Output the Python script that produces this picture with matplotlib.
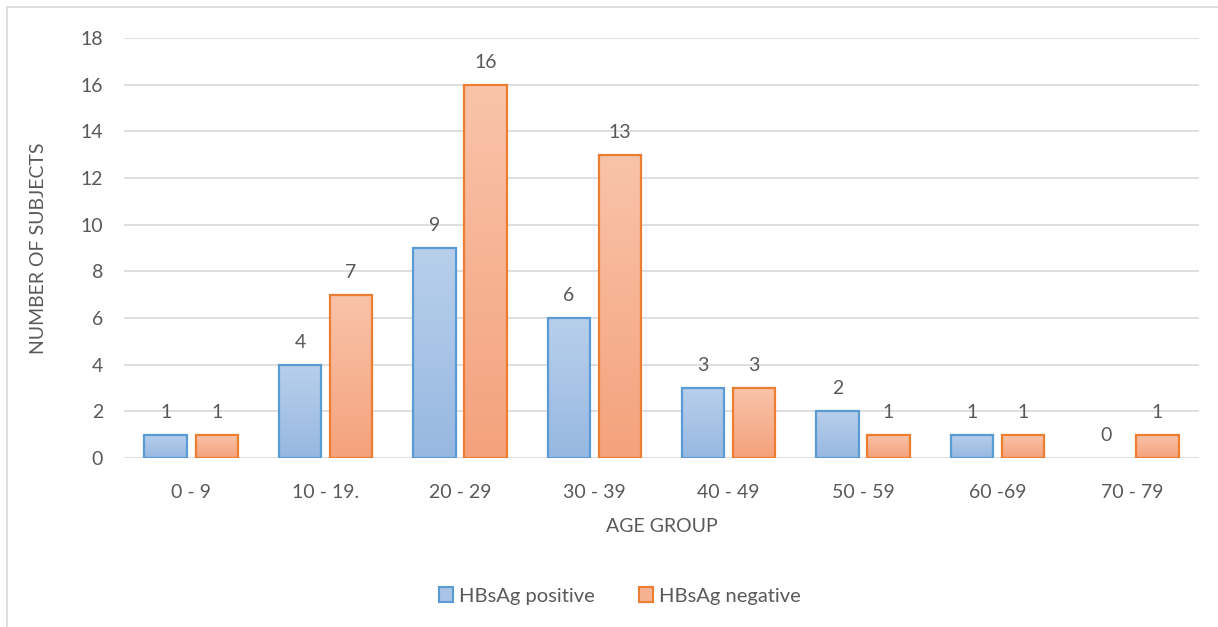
import numpy as np
import matplotlib.pyplot as plt
from matplotlib.colors import LinearSegmentedColormap
from matplotlib.patches import Rectangle, Patch

groups = ['0 - 9', '10 - 19.', '20 - 29', '30 - 39', '40 - 49', '50 - 59', '60 -69', '70 - 79']
positive = [1, 4, 9, 6, 3, 2, 1, 0]
negative = [1, 7, 16, 13, 3, 1, 1, 1]

plt.rcParams['font.family'] = ['Lato', 'DejaVu Sans']
txt = '#595959'

fig = plt.figure(figsize=(12.18, 6.27), dpi=100)
ax = fig.add_axes([124 / 1218, 1 - 458 / 627, 1075 / 1218, 420 / 627])

# outer chart frame
fig.patches.append(Rectangle((7 / 1218, -0.01), 1.2, 1 - 7 / 627 + 0.01, transform=fig.transFigure,
                             fill=False, edgecolor='#d9d9d9', lw=1.2))

x = np.arange(len(groups))
w = 0.315
off = 0.19

blue_cmap = LinearSegmentedColormap.from_list('b', ['#97b8e1', '#b8cfeb'])
orange_cmap = LinearSegmentedColormap.from_list('o', ['#f4a27c', '#f9c3aa'])
grad = np.linspace(0, 1, 100).reshape(-1, 1)


def gradient_bars(xs, vals, cmap, edge):
    bars = ax.bar(xs, vals, w, color='none', edgecolor=edge, linewidth=1.6, zorder=3)
    for b in bars:
        if b.get_height() <= 0:
            b.set_visible(False)
            continue
        x0 = b.get_x()
        im = ax.imshow(grad, cmap=cmap, origin='lower', aspect='auto',
                       extent=[x0, x0 + b.get_width(), 0, b.get_height()], zorder=2)
        im.set_clip_path(b)
    return bars


bp = gradient_bars(x - off, positive, blue_cmap, '#5b9bd5')
bn = gradient_bars(x + off, negative, orange_cmap, '#ed7d31')

for xi, v in zip(x - off, positive):
    ax.text(xi, v + 0.6, str(v), ha='center', va='bottom', color=txt, fontsize=14)
for xi, v in zip(x + off, negative):
    ax.text(xi, v + 0.6, str(v), ha='center', va='bottom', color=txt, fontsize=14)

ax.set_xlim(-0.5, len(groups) - 0.5)
ax.set_ylim(0, 18)
ax.set_yticks(range(0, 19, 2))
ax.set_xticks(x)
ax.set_xticklabels(groups)
ax.grid(axis='y', color='#d9d9d9', lw=1.2, zorder=0)
ax.set_axisbelow(True)
for s in ax.spines.values():
    s.set_visible(False)
ax.tick_params(length=0, colors=txt, labelsize=14)
ax.tick_params(axis='x', pad=19)
ax.tick_params(axis='y', pad=15)

ax.set_xlabel('AGE GROUP', color=txt, fontsize=14, labelpad=12)
ax.set_ylabel('NUMBER OF SUBJECTS', color=txt, fontsize=14, labelpad=24)

handles = [Patch(facecolor='#a9c4e7', edgecolor='#5b9bd5', lw=1.5, label='HBsAg positive'),
           Patch(facecolor='#f6b394', edgecolor='#ed7d31', lw=1.5, label='HBsAg negative')]
fig.legend(handles=handles, loc='center', bbox_to_anchor=(620 / 1218, 1 - 596 / 627), ncol=2,
           frameon=False, fontsize=14.5, labelcolor=txt, handlelength=0.7, handleheight=0.7,
           handletextpad=0.3, columnspacing=2.2)

fig.savefig('out.png', dpi=100)
